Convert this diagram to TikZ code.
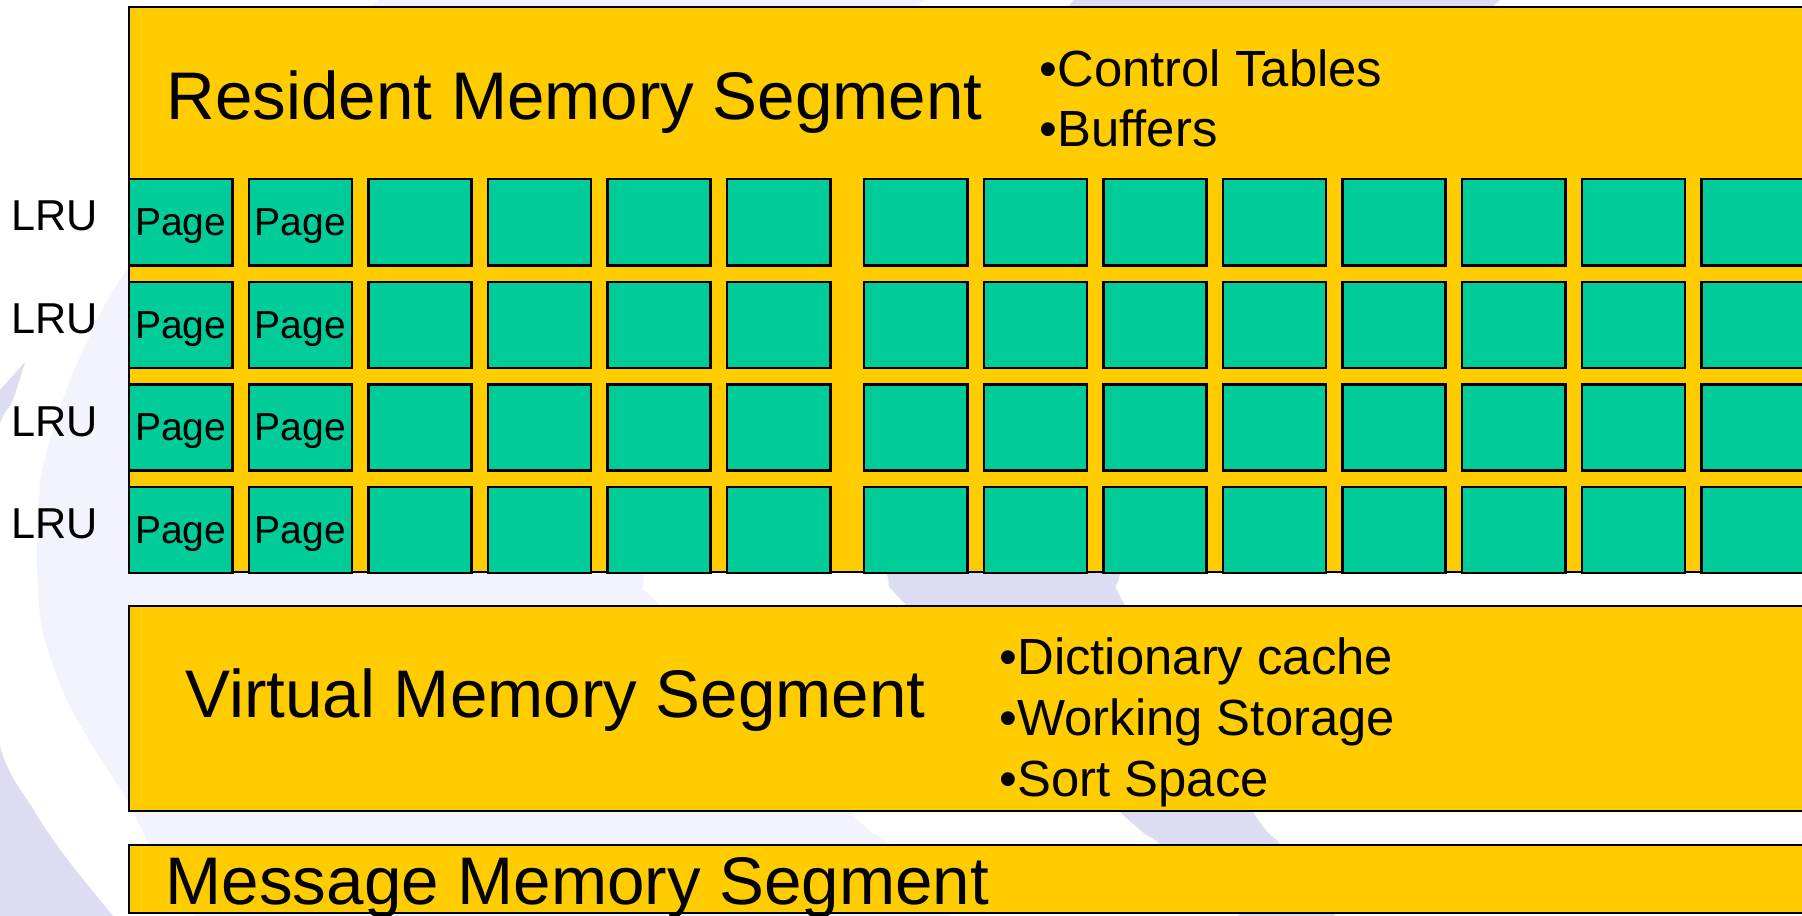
\documentclass[tikz,border=0pt]{standalone}
\usepackage{fontspec}
\setmainfont{Liberation Sans}
\definecolor{segyellow}{HTML}{FFCC00}
\definecolor{pagegreen}{HTML}{00CC99}
\definecolor{bglight}{RGB}{243,243,253}
\definecolor{bgdark}{RGB}{220,220,242}
\tikzset{segbox/.style={fill=segyellow, draw=black, line width=0.7pt},
  pagebox/.style={draw=black, fill=pagegreen, line width=0.7pt, minimum width=1.03cm, minimum height=0.86cm,
    inner sep=0pt, anchor=north west, text depth=0pt, font=\fontsize{11.1}{12}\selectfont},
  segtitle/.style={anchor=base west, inner sep=0pt, font=\fontsize{19.15}{22}\selectfont},
  segitem/.style={anchor=base west, inner sep=0pt, font=\fontsize{14.45}{17}\selectfont},
  lrulabel/.style={anchor=base west, inner sep=0pt, font=\fontsize{12.3}{14}\selectfont}}

\begin{document}
\begin{tikzpicture}[x=0.01cm, y=-0.01cm]
\useasboundingbox (0,0) rectangle (1802,916);
\clip (0,0) rectangle (1802,916);
\fill[white] (0,0) rectangle (1802,916);
\fill[bglight] plot[smooth] coordinates {(379,0) (250,120) (127,270) (83,350) (57,417) (40,483) (37,566) (43,633) (67,700) (97,753) (127,800) (150,845) (195,916)}
  -- plot[smooth] coordinates {(950,916) (890,845) (850,812) (661,607) (644,571) (660,350) (800,120) (925,0)} -- cycle;
\fill[bgdark] plot[smooth] coordinates {(1074,0) (950,150) (840,350) (830,450) (885,571) (908,607) (1120,812) (1161,845) (1240,916)}
  -- plot[smooth] coordinates {(1335,916) (1281,845) (1253,812) (1126,607) (1120,571) (1135,430) (1280,200) (1500,0)} -- cycle;
\fill[bgdark] (0,390) -- (25,362) -- plot[smooth] coordinates {(25,362) (13,400) (-3,437) (-20,600) (0,746) (33,809) (67,859) (113,916) (140,950)}
  -- (-80,950) -- (-80,390) -- cycle;

\filldraw[segbox] (129,7) rectangle (1830,571.8);
\filldraw[segbox] (129,606) rectangle (1830,811);
\filldraw[segbox] (129,845) rectangle (1830,913);

\node[segtitle] (resident) at (166,120) {Resident Memory Segment};
\node[segitem] (ctrl) at (1039,87) {•Control Tables};
\node[segitem] (buf) at (1039,147) {•Buffers};
\node[segtitle] (virtual) at (185,718) {Virtual Memory Segment};
\node[segitem] (dict) at (999,675) {•Dictionary cache};
\node[segitem] (work) at (999,736) {•Working Storage};
\node[segitem] (sort) at (999,797) {•Sort Space};
\node[segtitle] (message) at (165,905) {Message Memory Segment};

\foreach \r in {1,...,4} {
  \pgfmathsetmacro{\py}{178+(\r-1)*102.6}
  \node[lrulabel] (lru-\r) at (10.5,\py+53) {LRU};
  \foreach \c in {1,...,14} {
    \pgfmathsetmacro{\px}{\c<7 ? 128+(\c-1)*119.6 : 863+(\c-7)*119.6}
    \node[pagebox] (p-\r-\c) at (\px,\py) {\ifnum\c<3 Page\fi};
  }
}
\end{tikzpicture}
\end{document}
